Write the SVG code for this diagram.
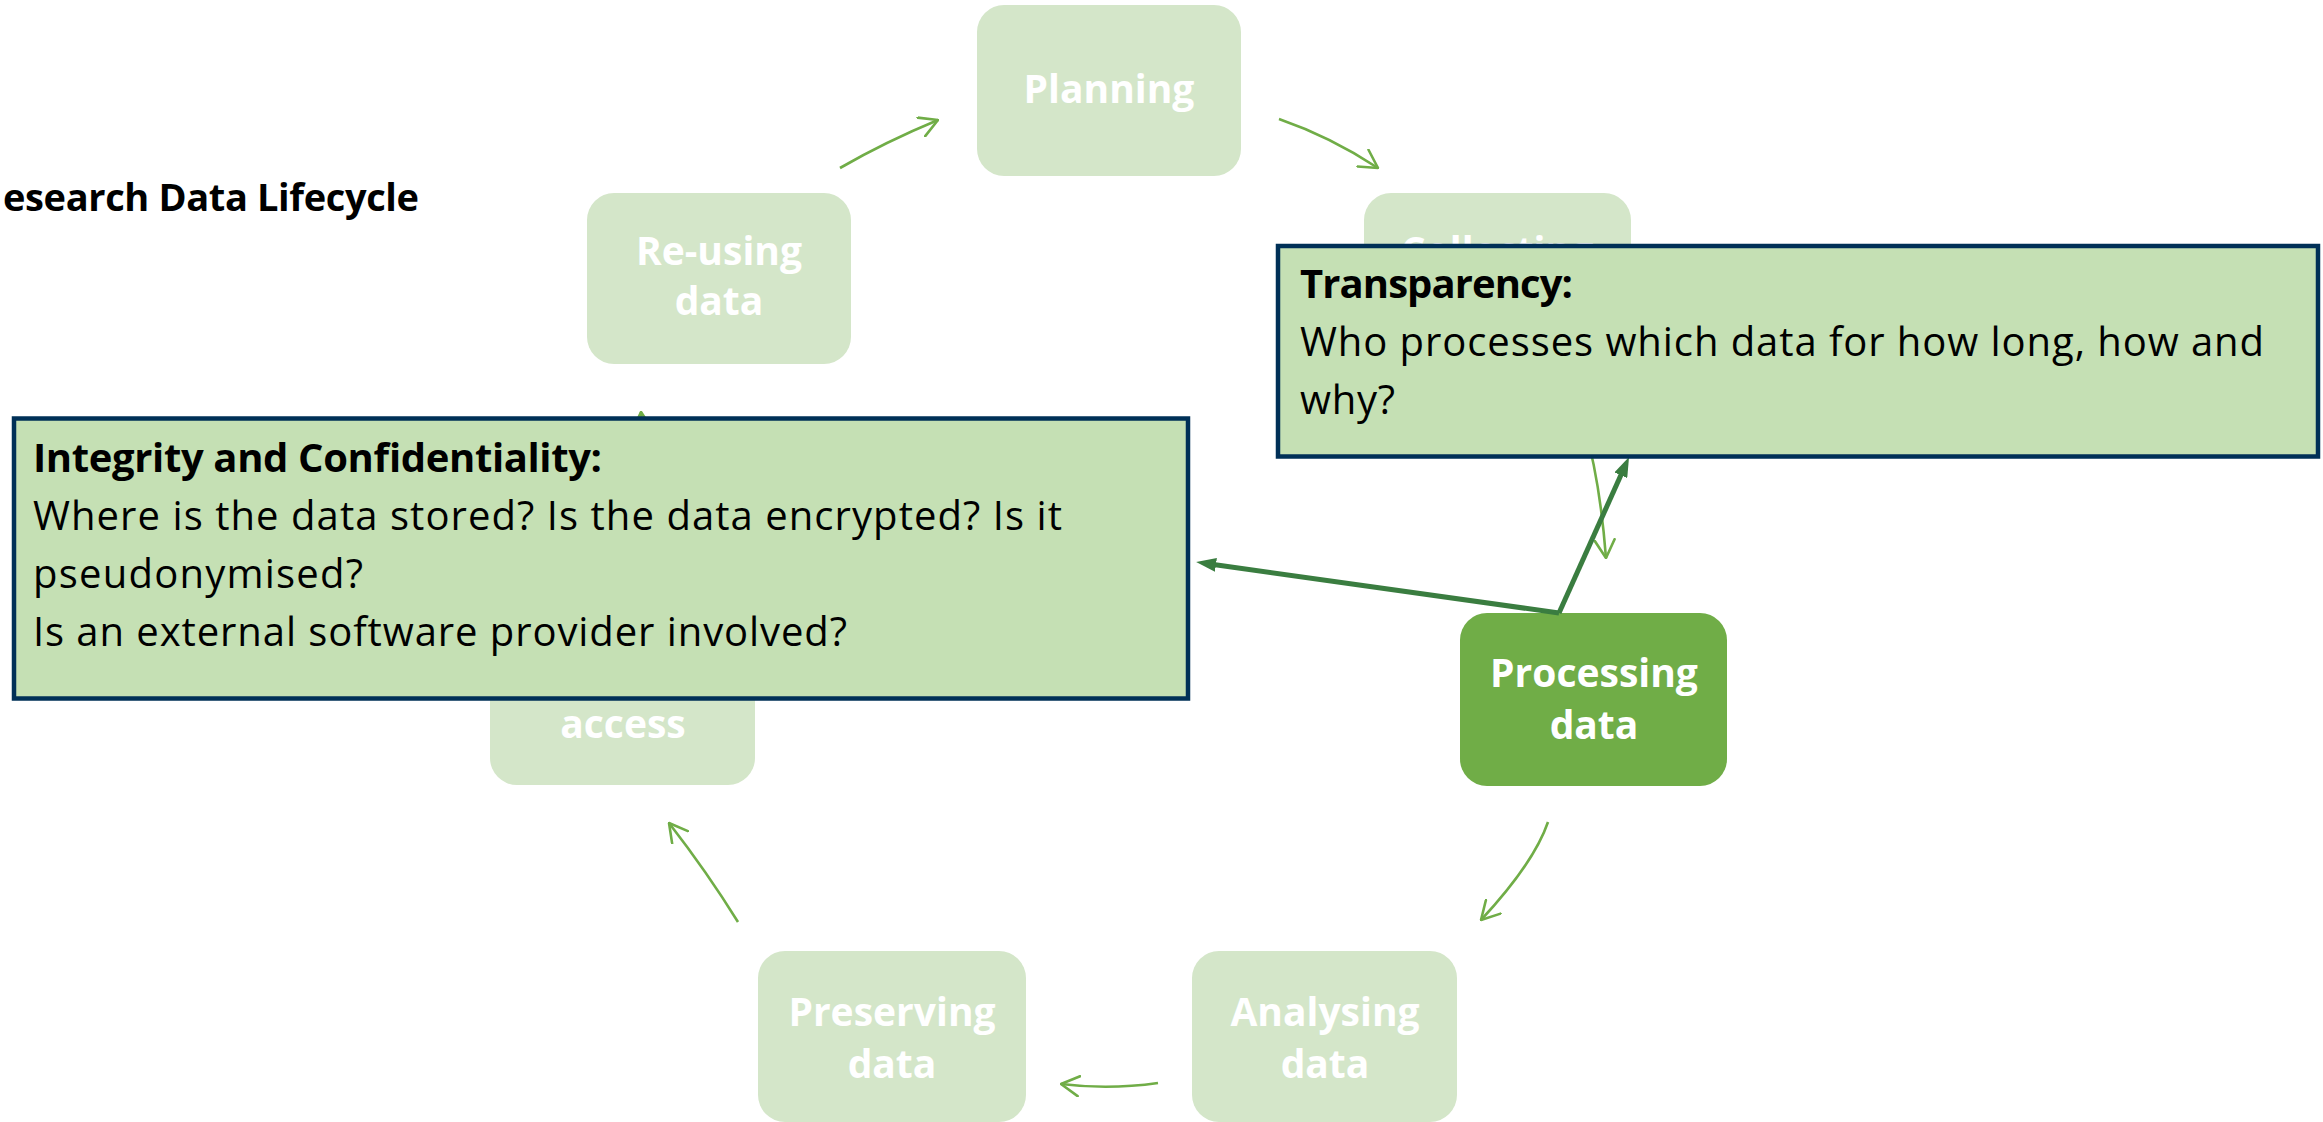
<svg xmlns="http://www.w3.org/2000/svg" width="2323" height="1122" viewBox="0 0 2323 1122">
  <defs>
    <style>
      .stage { fill: #D4E6C9; }
      .stage-active { fill: #70AD47; }
      .stage-label { font-family: "Open Sans", Lato, "Liberation Sans", sans-serif; font-weight: 700; font-size: 39px; fill: #FFFFFF; text-anchor: middle; }
      .cycle { fill: none; stroke: #70AD47; stroke-width: 2.6; marker-end: url(#open-head); }
      .link { fill: none; stroke: #3A7D40; stroke-width: 5; marker-end: url(#solid-head); }
      .callout { fill: #C5E0B4; stroke: #003057; stroke-width: 4.5; }
      .callout-text { font-family: "Open Sans", Lato, "Liberation Sans", sans-serif; font-size: 40px; fill: #000000; }
      .callout-title { font-weight: 700; }
      .title { font-family: "Open Sans", Lato, "Liberation Sans", sans-serif; font-weight: 700; font-size: 38px; fill: #000000; }
    </style>
    <marker id="open-head" markerUnits="userSpaceOnUse" viewBox="0 0 20 22" refX="19" refY="11" markerWidth="20" markerHeight="22" orient="auto">
      <path d="M1,1 L19,11 L1,21" fill="none" stroke="#70AD47" stroke-width="2.6" stroke-linecap="round" stroke-linejoin="round"/>
    </marker>
    <marker id="solid-head" markerUnits="userSpaceOnUse" viewBox="0 0 20 14" refX="6" refY="7" markerWidth="20" markerHeight="14" orient="auto">
      <path d="M0,0 L20,7 L0,14 Z" fill="#3A7D40"/>
    </marker>
    <!-- the Collecting label peeks out only above the Transparency callout -->
    <clipPath id="above-transparency">
      <rect x="1364" y="193" width="267" height="51"/>
    </clipPath>
  </defs>

  <rect width="2323" height="1122" fill="#FFFFFF"/>

  <text class="title" x="3" y="211" textLength="416">esearch Data Lifecycle</text>

  <!-- lifecycle stages -->
  <g id="planning">
    <rect class="stage" x="977" y="5" width="264" height="171" rx="27"/>
    <text class="stage-label" x="1109" y="103">Planning</text>
  </g>
  <g id="collecting">
    <rect class="stage" x="1364" y="193" width="267" height="171" rx="27"/>
    <text class="stage-label" x="1497" y="265" clip-path="url(#above-transparency)">Collecting</text>
  </g>
  <g id="processing">
    <rect class="stage-active" x="1460" y="613" width="267" height="173" rx="27"/>
    <text class="stage-label" x="1594" y="687">Processing</text>
    <text class="stage-label" x="1594" y="739">data</text>
  </g>
  <g id="analysing">
    <rect class="stage" x="1192" y="951" width="265" height="171" rx="27"/>
    <text class="stage-label" x="1325" y="1026">Analysing</text>
    <text class="stage-label" x="1325" y="1078">data</text>
  </g>
  <g id="preserving">
    <rect class="stage" x="758" y="951" width="268" height="171" rx="27"/>
    <text class="stage-label" x="892" y="1026">Preserving</text>
    <text class="stage-label" x="892" y="1078">data</text>
  </g>
  <g id="access">
    <rect class="stage" x="490" y="614" width="265" height="171" rx="27"/>
    <text class="stage-label" x="623" y="738">access</text>
  </g>
  <g id="reusing">
    <rect class="stage" x="587" y="193" width="264" height="171" rx="27"/>
    <text class="stage-label" x="719" y="265">Re-using</text>
    <text class="stage-label" x="719" y="315">data</text>
  </g>

  <!-- connectors -->
  <g id="connectors">
    <path class="cycle" d="M840,168 Q885,142 938,120"/>
    <path class="cycle" d="M1279,119 Q1331,137 1378,168"/>
    <path class="cycle" d="M1584,425 Q1600,480 1606,558"/>
    <path class="cycle" d="M1548,822 Q1534,863 1481,920"/>
    <path class="cycle" d="M1158,1083 Q1109,1090 1061,1084"/>
    <path class="cycle" d="M738,922 Q707,872 669,823"/>
    <path class="cycle" d="M660,560 Q646,480 641,412"/>
    <path class="link" d="M1559,613 L1623.3,469.8"/>
    <path class="link" d="M1559,613 L1210,564"/>
  </g>

  <!-- data protection callouts -->
  <g id="transparency">
    <rect class="callout" x="1278" y="246" width="1040" height="210.5"/>
    <text class="callout-text callout-title" x="1300" y="298" textLength="273">Transparency:</text>
    <text class="callout-text" x="1300" y="356" textLength="964">Who processes which data for how long, how and</text>
    <text class="callout-text" x="1300" y="414" textLength="95">why?</text>
  </g>
  <g id="integrity">
    <rect class="callout" x="14" y="418.5" width="1174" height="280"/>
    <text class="callout-text callout-title" x="33" y="472" textLength="569">Integrity and Confidentiality:</text>
    <text class="callout-text" x="33" y="530" textLength="1029">Where is the data stored? Is the data encrypted? Is it</text>
    <text class="callout-text" x="33" y="588" textLength="330">pseudonymised?</text>
    <text class="callout-text" x="33" y="646" textLength="814">Is an external software provider involved?</text>
  </g>
</svg>
